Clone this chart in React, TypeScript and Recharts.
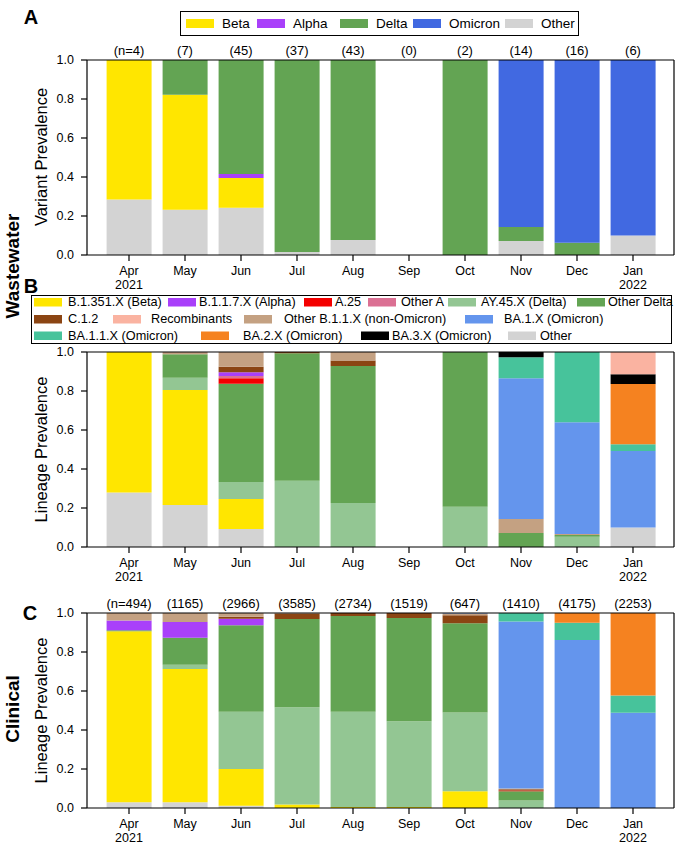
import { Bar, BarChart, XAxis, YAxis } from "recharts";

const FONT = "'Liberation Sans', Arial, Helvetica, sans-serif";

const MONTHS = ["Apr", "May", "Jun", "Jul", "Aug", "Sep", "Oct", "Nov", "Dec", "Jan"];
const YEARS = ["2021", "", "", "", "", "", "", "", "", "2022"];
const Y_TICKS = [0, 0.2, 0.4, 0.6, 0.8, 1.0];

const WW_COUNTS = [4, 7, 45, 37, 43, 0, 2, 14, 16, 6];
const CLIN_COUNTS = [494, 1165, 2966, 3585, 2734, 1519, 647, 1410, 4175, 2253];

// A: wastewater, variant level
const A_OTHER = [0.285, 0.232, 0.242, 0.015, 0.077, 0, 0, 0.072, 0, 0.1];
const A_BETA = [0.715, 0.59, 0.153, 0, 0, 0, 0, 0, 0, 0];
const A_ALPHA = [0, 0, 0.021, 0, 0, 0, 0, 0, 0, 0];
const A_DELTA = [0, 0.178, 0.584, 0.985, 0.923, 0, 1.0, 0.071, 0.063, 0];
const A_OMICRON = [0, 0, 0, 0, 0, 0, 0, 0.857, 0.937, 0.9];

// B: wastewater, lineage level
const B_OTHER = [0.28, 0.215, 0.092, 0, 0, 0, 0, 0, 0, 0.1];
const B_BETA = [0.72, 0.59, 0.154, 0, 0, 0, 0, 0, 0, 0];
const B_AY45 = [0, 0.063, 0.087, 0.34, 0.226, 0, 0.207, 0, 0.053, 0];
const B_ODELTA = [0, 0.12, 0.504, 0.653, 0.702, 0, 0.793, 0.072, 0.009, 0];
const B_A25 = [0, 0, 0.028, 0, 0, 0, 0, 0, 0, 0];
const B_OTHERA = [0, 0, 0.012, 0, 0, 0, 0, 0, 0, 0];
const B_ALPHA = [0, 0, 0.019, 0, 0, 0, 0, 0, 0, 0];
const B_C12 = [0, 0, 0.029, 0.007, 0.029, 0, 0, 0, 0, 0];
const B_OB11X = [0, 0.012, 0.075, 0, 0.043, 0, 0, 0.071, 0.005, 0];
const B_BA1 = [0, 0, 0, 0, 0, 0, 0, 0.722, 0.573, 0.392];
const B_BA11 = [0, 0, 0, 0, 0, 0, 0, 0.108, 0.36, 0.035];
const B_BA2 = [0, 0, 0, 0, 0, 0, 0, 0, 0, 0.309];
const B_BA3 = [0, 0, 0, 0, 0, 0, 0, 0.027, 0, 0.05];
const B_RECOMB = [0, 0, 0, 0, 0, 0, 0, 0, 0, 0.114];

// C: clinical, lineage level
const C_OTHER = [0.03, 0.03, 0.012, 0, 0, 0, 0, 0, 0, 0];
const C_BETA = [0.877, 0.683, 0.188, 0.018, 0.005, 0.005, 0.086, 0, 0, 0];
const C_AY45 = [0, 0.022, 0.293, 0.499, 0.488, 0.44, 0.404, 0.038, 0, 0];
const C_ODELTA = [0.005, 0.138, 0.444, 0.452, 0.492, 0.529, 0.457, 0.048, 0, 0];
const C_A25 = [0, 0, 0, 0, 0, 0, 0, 0.004, 0, 0];
const C_OTHERA = [0, 0, 0, 0, 0, 0, 0, 0, 0, 0];
const C_ALPHA = [0.05, 0.081, 0.034, 0, 0, 0, 0, 0, 0, 0];
const C_C12 = [0, 0, 0.01, 0.028, 0.015, 0.026, 0.041, 0.006, 0, 0];
const C_OB11X = [0.038, 0.046, 0.019, 0.003, 0, 0, 0.009, 0.004, 0, 0];
const C_BA1 = [0, 0, 0, 0, 0, 0, 0.003, 0.857, 0.861, 0.488];
const C_BA11 = [0, 0, 0, 0, 0, 0, 0, 0.043, 0.089, 0.089];
const C_BA2 = [0, 0, 0, 0, 0, 0, 0, 0, 0.05, 0.423];
const C_BA3 = [0, 0, 0, 0, 0, 0, 0, 0, 0, 0];
const C_RECOMB = [0, 0, 0, 0, 0, 0, 0, 0, 0, 0];

const COLORS = {
  beta: "#ffe600",
  alpha: "#a940fa",
  a25: "#f40000",
  otherA: "#db7093",
  ay45: "#93c693",
  delta: "#63a453",
  c12: "#8b4513",
  recomb: "#fab3a1",
  ob11x: "#c4a182",
  ba1: "#6495ed",
  ba11: "#47c39b",
  ba2: "#f58220",
  ba3: "#000000",
  other: "#d3d3d3",
  omicron: "#4169e1",
};

type Series = { key: string; color: string; values: number[] };

const A_SERIES: Series[] = [
  { key: "other", color: COLORS.other, values: A_OTHER },
  { key: "beta", color: COLORS.beta, values: A_BETA },
  { key: "alpha", color: COLORS.alpha, values: A_ALPHA },
  { key: "delta", color: COLORS.delta, values: A_DELTA },
  { key: "omicron", color: COLORS.omicron, values: A_OMICRON },
];

const lineageSeries = (v: number[][]): Series[] =>
  ["other", "beta", "ay45", "delta", "a25", "otherA", "alpha", "c12", "ob11x", "ba1", "ba11", "ba2", "ba3", "recomb"].map(
    (key, i) => ({ key, color: (COLORS as any)[key], values: v[i] })
  );

const B_SERIES = lineageSeries([B_OTHER, B_BETA, B_AY45, B_ODELTA, B_A25, B_OTHERA, B_ALPHA, B_C12, B_OB11X, B_BA1, B_BA11, B_BA2, B_BA3, B_RECOMB]);
const C_SERIES = lineageSeries([C_OTHER, C_BETA, C_AY45, C_ODELTA, C_A25, C_OTHERA, C_ALPHA, C_C12, C_OB11X, C_BA1, C_BA11, C_BA2, C_BA3, C_RECOMB]);

function buildRows(series: Series[], counts?: number[]) {
  return MONTHS.map((month, i) => {
    const row: Record<string, any> = {
      month,
      count: counts ? (i === 0 ? `(n=${counts[i]})` : `(${counts[i]})`) : month,
    };
    series.forEach((s) => (row[s.key] = s.values[i]));
    return row;
  });
}

const AXIS = { stroke: "#000", strokeWidth: 1.2 };
const PAD = { left: 14, right: 13 };

function MonthTick(props: any) {
  const { x, y, payload } = props;
  const i = MONTHS.indexOf(payload.value);
  return (
    <text x={x} y={y} textAnchor="middle" fontSize={12.5} fill="#000">
      <tspan x={x} dy="0.95em">{payload.value}</tspan>
      {YEARS[i] && (
        <tspan x={x} dy="1.12em">
          {YEARS[i]}
        </tspan>
      )}
    </text>
  );
}

function CountTick(props: any) {
  const { x, y, payload } = props;
  return (
    <text x={x} y={y - 5} textAnchor="middle" fontSize={13} fill="#000">
      {payload.value}
    </text>
  );
}

function Panel({ top, plotTop, plotBottom, series, counts }: { top: number; plotTop: number; plotBottom: number; series: Series[]; counts?: number[] }) {
  const bottomH = 42;
  const rows = buildRows(series, counts);
  return (
    <div style={{ position: "absolute", left: 0, top }}>
      <BarChart width={675} height={plotBottom - top + bottomH} data={rows} margin={{ top: 0, right: 0, bottom: 0, left: 0 }} barCategoryGap="10%">
        <XAxis
          xAxisId="top"
          orientation="top"
          dataKey="count"
          height={plotTop - top}
          padding={PAD}
          tickSize={0}
          tickMargin={0}
          axisLine={AXIS}
          tickLine={false}
          interval={0}
          tick={counts ? <CountTick /> : false}
        />
        <XAxis dataKey="month" height={bottomH} padding={PAD} tickSize={6} tickMargin={2} axisLine={AXIS} tickLine={AXIS} interval={0} tick={<MonthTick />} />
        <YAxis
          domain={[0, 1]}
          ticks={Y_TICKS}
          width={87}
          tickSize={6}
          tickMargin={7}
          axisLine={AXIS}
          tickLine={AXIS}
          tickFormatter={(v: number) => v.toFixed(1)}
          tick={{ fill: "#000", fontSize: 12.5 }}
          interval={0}
        />
        <YAxis yAxisId="right" orientation="right" width={1} domain={[0, 1]} tick={false} tickLine={false} axisLine={AXIS} />
        {series.map((s) => (
          <Bar key={s.key} dataKey={s.key} stackId="s" fill={s.color} isAnimationActive={false} />
        ))}
      </BarChart>
    </div>
  );
}

const LEGEND_A = [
  { label: "Beta", color: COLORS.beta, x: 186 },
  { label: "Alpha", color: COLORS.alpha, x: 257 },
  { label: "Delta", color: COLORS.delta, x: 340 },
  { label: "Omicron", color: COLORS.omicron, x: 413 },
  { label: "Other", color: COLORS.other, x: 505 },
];

const LEGEND_B = [
  { label: "B.1.351.X (Beta)", color: COLORS.beta, x: 34, tx: 68, row: 0 },
  { label: "B.1.1.7.X (Alpha)", color: COLORS.alpha, x: 168, tx: 199, row: 0 },
  { label: "A.25", color: COLORS.a25, x: 304, tx: 335, row: 0 },
  { label: "Other A", color: COLORS.otherA, x: 368, tx: 401, row: 0 },
  { label: "AY.45.X (Delta)", color: COLORS.ay45, x: 448, tx: 481, row: 0 },
  { label: "Other Delta", color: COLORS.delta, x: 577, tx: 608, row: 0 },
  { label: "C.1.2", color: COLORS.c12, x: 34, tx: 68, row: 1 },
  { label: "Recombinants", color: COLORS.recomb, x: 113, tx: 151, row: 1 },
  { label: "Other B.1.1.X (non-Omicron)", color: COLORS.ob11x, x: 244, tx: 284, row: 1 },
  { label: "BA.1.X (Omicron)", color: COLORS.ba1, x: 465, tx: 504, row: 1 },
  { label: "BA.1.1.X (Omicron)", color: COLORS.ba11, x: 34, tx: 68, row: 2 },
  { label: "BA.2.X (Omicron)", color: COLORS.ba2, x: 201, tx: 243, row: 2 },
  { label: "BA.3.X (Omicron)", color: COLORS.ba3, x: 361, tx: 392, row: 2 },
  { label: "Other", color: COLORS.other, x: 508, tx: 540, row: 2 },
];
const ROW_Y = [302, 319, 335.5];

function Overlay() {
  return (
    <svg width={675} height={850} style={{ position: "absolute", left: 0, top: 0, pointerEvents: "none" }}>
      {/* legend A */}
      <rect x={180.5} y={11.5} width={398} height={24} fill="#fff" stroke="#000" strokeWidth={1} />
      {LEGEND_A.map((it) => (
        <g key={it.label}>
          <rect x={it.x} y={19} width={28} height={9} fill={it.color} />
          <text x={it.x + 36} y={23.5} dominantBaseline="central" fontSize={13.5} fill="#000">
            {it.label}
          </text>
        </g>
      ))}
      {/* legend B */}
      <rect x={31.5} y={295.5} width={640} height={48} fill="#fff" stroke="#000" strokeWidth={1} />
      {LEGEND_B.map((it) => (
        <g key={it.label}>
          <rect x={it.x} y={ROW_Y[it.row] - 4} width={28} height={8.5} fill={it.color} />
          <text x={it.tx} y={ROW_Y[it.row]} dominantBaseline="central" fontSize={12.7} fill="#000">
            {it.label}
          </text>
        </g>
      ))}
      {/* panel letters */}
      <text x={31} y={23.5} textAnchor="middle" fontSize={20} fontWeight="bold">A</text>
      <text x={31} y={293} textAnchor="middle" fontSize={20} fontWeight="bold">B</text>
      <text x={30} y={620} textAnchor="middle" fontSize={20} fontWeight="bold">C</text>
      {/* axis labels */}
      <text transform="translate(41,157) rotate(-90)" textAnchor="middle" dominantBaseline="central" fontSize={16.5}>Variant Prevalence</text>
      <text transform="translate(41,449.5) rotate(-90)" textAnchor="middle" dominantBaseline="central" fontSize={16.5}>Lineage Prevalence</text>
      <text transform="translate(41,710.5) rotate(-90)" textAnchor="middle" dominantBaseline="central" fontSize={16.5}>Lineage Prevalence</text>
      {/* group labels */}
      <text transform="translate(12,266) rotate(-90)" textAnchor="middle" dominantBaseline="central" fontSize={19} fontWeight="bold">Wastewater</text>
      <text transform="translate(12,709) rotate(-90)" textAnchor="middle" dominantBaseline="central" fontSize={19} fontWeight="bold">Clinical</text>
    </svg>
  );
}

export default function App() {
  return (
    <div style={{ position: "absolute", left: 0, top: 0, width: 675, height: 850, background: "#fff", fontFamily: FONT, overflow: "hidden" }}>
      <Panel top={0} plotTop={60} plotBottom={255} series={A_SERIES} counts={WW_COUNTS} />
      <Panel top={300} plotTop={352} plotBottom={547} series={B_SERIES} />
      <Panel top={560} plotTop={613} plotBottom={808} series={C_SERIES} counts={CLIN_COUNTS} />
      <Overlay />
    </div>
  );
}
